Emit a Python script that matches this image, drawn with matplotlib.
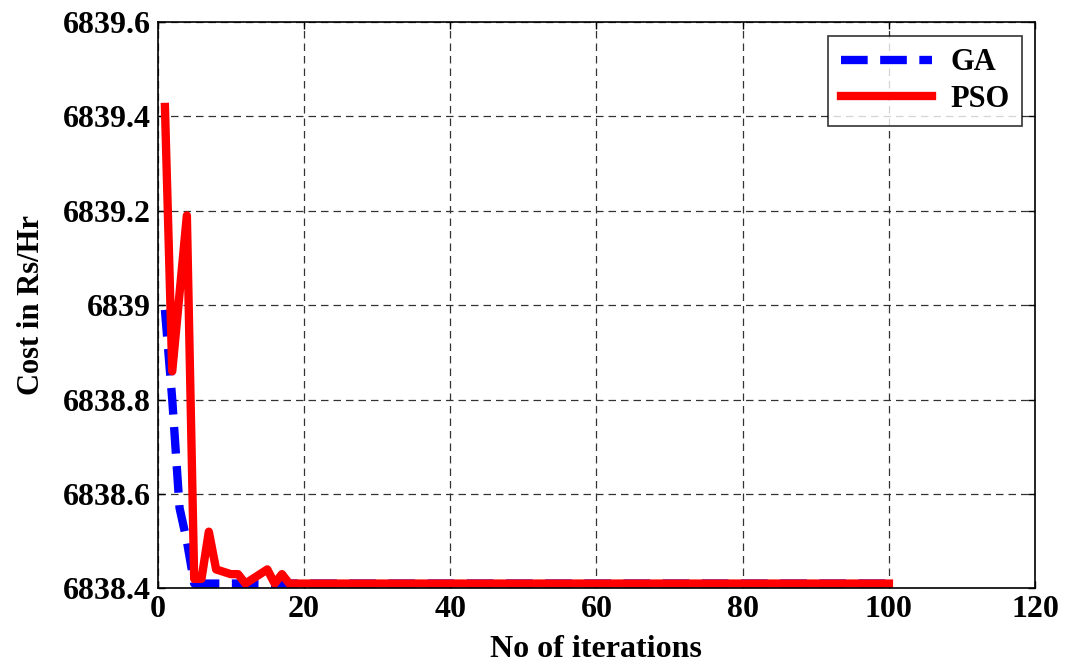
import matplotlib
matplotlib.use("Agg")
import matplotlib.pyplot as plt
from matplotlib.ticker import FuncFormatter

# GA convergence (first iterations, then flat)
ga_iter = [1, 2, 3, 4, 5, 100]
ga_cost = [6838.99, 6838.80, 6838.57, 6838.50, 6838.41, 6838.41]

# PSO convergence
pso_iter = [1, 2, 4, 5, 6, 7, 8, 10, 11, 12, 15, 16, 17, 18, 100]
pso_cost = [6839.42, 6838.86, 6839.19, 6838.42, 6838.42, 6838.52, 6838.44,
            6838.43, 6838.43, 6838.41, 6838.44, 6838.41, 6838.43, 6838.41, 6838.41]

plt.rcParams['font.family'] = ['Liberation Serif', 'DejaVu Serif']
plt.rcParams['font.weight'] = 'bold'

fig = plt.figure(figsize=(10.65, 6.67), dpi=100)
ax = fig.add_axes([0.148, 0.118, 0.824, 0.849])

ax.plot(ga_iter, ga_cost, color='blue', linestyle=(0, (3.2, 1.5)), linewidth=6, label='GA')
ax.plot(pso_iter, pso_cost, color='red', linestyle='-', linewidth=6, label='PSO')

ax.set_xlim(0, 120)
ax.set_ylim(6838.4, 6839.6)
ax.set_xticks(range(0, 121, 20))
ax.set_yticks([6838.4, 6838.6, 6838.8, 6839.0, 6839.2, 6839.4, 6839.6])
ax.yaxis.set_major_formatter(FuncFormatter(lambda v, p: f"{v:.1f}".rstrip('0').rstrip('.')))
ax.tick_params(direction='in', labelsize=23, width=1, length=5, top=True, right=True, pad=5)
for lbl in ax.get_xticklabels() + ax.get_yticklabels():
    lbl.set_fontweight('bold')

ax.grid(True, color='#333333', linestyle=(0, (6, 4)), linewidth=0.9)
for s in ax.spines.values():
    s.set_linewidth(1.2)

ax.set_xlabel('No of iterations', fontsize=23, fontweight='bold', labelpad=8)
ax.set_ylabel('Cost in Rs/Hr', fontsize=22, fontweight='bold', labelpad=12)

leg = ax.legend(loc='upper right', fontsize=22, frameon=True, fancybox=False,
                handlelength=3.0, borderpad=0.4, labelspacing=0.25, handletextpad=0.6,
                borderaxespad=0, bbox_to_anchor=(0.985, 0.975))
leg.get_frame().set_edgecolor('black')
leg.get_frame().set_linewidth(1.2)
for t in leg.get_texts():
    t.set_fontweight('bold')

fig.savefig('out.png', dpi=100)
